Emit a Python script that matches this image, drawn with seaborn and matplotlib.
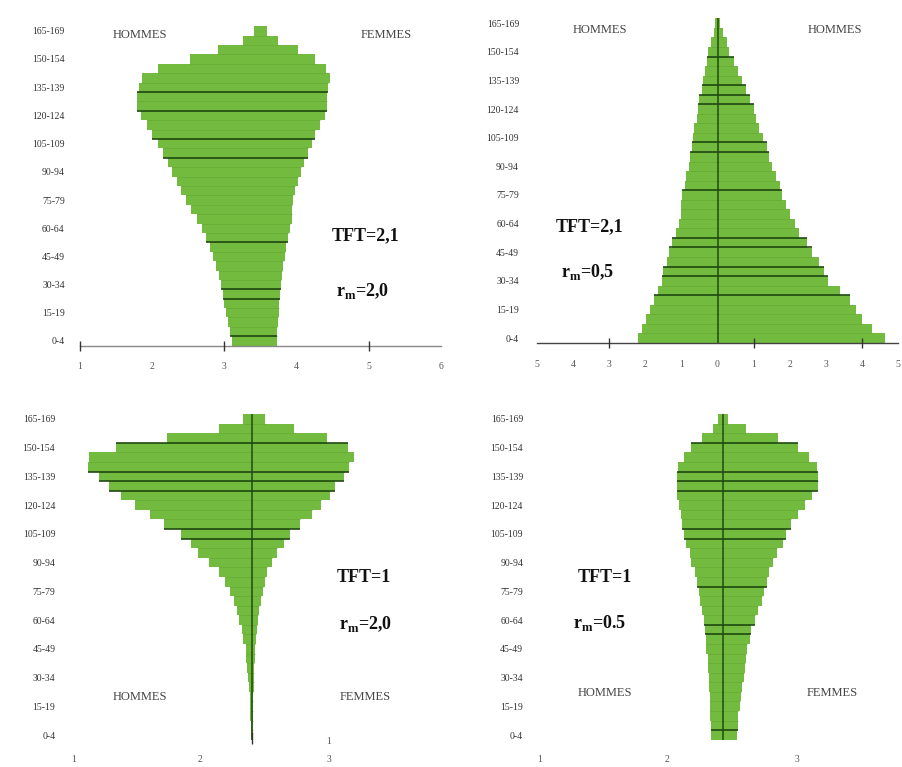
import matplotlib
matplotlib.use("Agg")
import matplotlib.pyplot as plt
import numpy as np
import pandas as pd
import seaborn as sns

# Age groups (5-year classes), youngest first
AGES = [f"{a}-{a + 4}" for a in range(0, 170, 5)]
SHOWN_AGES = AGES[::3]

# Male (left) and female (right) shares per age group, youngest first
TL_HOMMES = [0.32, 0.35, 0.38, 0.40, 0.43, 0.44, 0.47, 0.50, 0.54, 0.58, 0.63, 0.68,
             0.74, 0.81, 0.88, 0.96, 1.03, 1.08, 1.15, 1.21, 1.28, 1.35, 1.42, 1.50,
             1.58, 1.63, 1.63, 1.61, 1.56, 1.35, 0.90, 0.51, 0.17, 0.01]
TL_FEMMES = [0.31, 0.31, 0.32, 0.33, 0.33, 0.35, 0.36, 0.38, 0.39, 0.42, 0.43, 0.46,
             0.49, 0.51, 0.51, 0.53, 0.56, 0.60, 0.64, 0.68, 0.74, 0.79, 0.83, 0.90,
             0.97, 1.00, 1.00, 1.01, 1.04, 0.99, 0.83, 0.60, 0.32, 0.17]

TR_HOMMES = [2.19, 2.08, 1.97, 1.88, 1.77, 1.66, 1.55, 1.50, 1.41, 1.33, 1.25, 1.14,
             1.08, 1.02, 1.00, 0.97, 0.91, 0.86, 0.80, 0.75, 0.72, 0.69, 0.64, 0.58,
             0.55, 0.50, 0.44, 0.39, 0.36, 0.30, 0.25, 0.17, 0.11, 0.06]
TR_FEMMES = [4.63, 4.29, 3.99, 3.85, 3.68, 3.38, 3.07, 2.96, 2.80, 2.63, 2.47, 2.27,
             2.16, 2.02, 1.91, 1.80, 1.72, 1.63, 1.52, 1.44, 1.36, 1.27, 1.16, 1.08,
             1.00, 0.89, 0.78, 0.69, 0.58, 0.47, 0.33, 0.25, 0.14, 0.06]

BL_HOMMES = [0.008, 0.010, 0.013, 0.016, 0.018, 0.024, 0.029, 0.037, 0.044, 0.05,
             0.07, 0.08, 0.10, 0.12, 0.14, 0.17, 0.21, 0.26, 0.34, 0.42, 0.48, 0.56,
             0.69, 0.80, 0.92, 1.03, 1.12, 1.20, 1.29, 1.28, 1.07, 0.67, 0.26, 0.07]
BL_FEMMES = [0.005, 0.005, 0.008, 0.008, 0.010, 0.013, 0.016, 0.018, 0.021, 0.026,
             0.031, 0.039, 0.044, 0.055, 0.071, 0.086, 0.10, 0.12, 0.16, 0.20, 0.25,
             0.30, 0.38, 0.47, 0.54, 0.61, 0.65, 0.72, 0.76, 0.80, 0.75, 0.59, 0.33, 0.10]

BR_HOMMES = [0.09, 0.09, 0.10, 0.10, 0.10, 0.11, 0.11, 0.12, 0.12, 0.13, 0.13, 0.14,
             0.15, 0.16, 0.18, 0.19, 0.20, 0.22, 0.25, 0.26, 0.29, 0.30, 0.32, 0.33,
             0.34, 0.36, 0.36, 0.36, 0.35, 0.30, 0.25, 0.16, 0.08, 0.04]
BR_FEMMES = [0.11, 0.12, 0.12, 0.13, 0.14, 0.15, 0.16, 0.17, 0.18, 0.19, 0.21, 0.22,
             0.25, 0.27, 0.30, 0.32, 0.34, 0.36, 0.39, 0.42, 0.47, 0.49, 0.53, 0.58,
             0.64, 0.69, 0.74, 0.74, 0.73, 0.67, 0.58, 0.43, 0.18, 0.04]

# Age classes whose upper edge carries a dark separating line
TL_LINES = [26, 24, 21, 19, 10, 5, 4, 0]
TR_LINES = [29, 26, 25, 24, 20, 19, 15, 10, 9, 7, 6, 4]
BL_LINES = [30, 27, 26, 25, 21, 20]
BR_LINES = [30, 27, 26, 25, 21, 20, 15, 11, 10, 0]

# Panel annotations
TL_TEXT = ("TFT=2,1", "2,0", "HOMMES", "FEMMES")
TR_TEXT = ("TFT=2,1", "0,5", "HOMMES", "HOMMES")
BL_TEXT = ("TFT=1", "2,0", "HOMMES", "FEMMES")
BR_TEXT = ("TFT=1", "0.5", "HOMMES", "FEMMES")

# x tick labels of each panel
TL_XLABELS = ["1", "2", "3", "4", "5", "6"]
TR_XLABELS = ["5", "4", "3", "2", "1", "0", "1", "2", "3", "4", "5"]
BL_XLABELS = ["1", "2", "3"]
BR_XLABELS = ["1", "2", "3"]

GREEN = "#73bb3e"
SERIF = ["Liberation Serif", "DejaVu Serif"]

W, H = 902, 767
sns.set_theme(style="white")
plt.rcParams["font.family"] = SERIF
plt.rcParams["mathtext.fontset"] = "custom"
plt.rcParams["mathtext.rm"] = "Liberation Serif"
plt.rcParams["mathtext.bf"] = "Liberation Serif:bold"

fig = plt.figure(figsize=(W / 100, H / 100), dpi=100)


def px_rect(x0, x1, ytop, ybot):
    return [x0 / W, 1 - ybot / H, (x1 - x0) / W, (ybot - ytop) / H]


def fig_text(x, y, s, **kw):
    fig.text(x / W, 1 - y / H, s, ha="center", va="center", **kw)


def pyramid(rect, hommes, femmes, lines, xlim, xticks, xlabels,
            ylab_pad, xlab_pad, center_line, axis_line, axis_color="#888888"):
    ax = fig.add_axes(rect)
    order = AGES[::-1]
    df = pd.DataFrame({
        "age": AGES * 2,
        "valeur": [-v for v in hommes] + list(femmes),
        "sexe": ["H"] * len(AGES) + ["F"] * len(AGES),
    })
    for sexe in ("H", "F"):
        sns.barplot(data=df[df["sexe"] == sexe], x="valeur", y="age", order=order,
                    orient="h", color=GREEN, width=1.0, saturation=1,
                    linewidth=0, ax=ax)
    n = len(AGES)
    # faint separators between age classes
    for k in range(n - 1):
        y = (n - 1) - (k + 0.5)
        left = min(hommes[k], hommes[k + 1])
        right = min(femmes[k], femmes[k + 1])
        ax.hlines(y, -left, right, color="#66a935", linewidth=0.5, zorder=4)
    for k in lines:
        y = (n - 1) - (k + 0.5)
        left = max(hommes[k], hommes[k + 1])
        right = max(femmes[k], femmes[k + 1])
        ax.hlines(y, -left, right, color="#1f4a12", linewidth=1.2, zorder=5)
    if center_line:
        ax.axvline(0, color="#1f4a12", linewidth=1.1, zorder=6)
    ax.set_xlim(*xlim)
    ax.set_ylim(n - 0.5, -0.5)
    ax.set_xlabel("")
    ax.set_ylabel("")
    ax.set_xticks(xticks)
    ax.set_xticklabels(xlabels, fontsize=7, color="#555555")
    ax.set_yticks([order.index(a) for a in SHOWN_AGES])
    ax.set_yticklabels(SHOWN_AGES, fontsize=7, color="#333333")
    ax.tick_params(axis="y", length=0, pad=ylab_pad)
    ax.tick_params(axis="x", length=0, pad=xlab_pad)
    for side in ("top", "right", "left"):
        ax.spines[side].set_visible(False)
    ax.spines["bottom"].set_visible(axis_line)
    ax.spines["bottom"].set_color(axis_color)
    ax.spines["bottom"].set_linewidth(1.0)
    ax.patch.set_alpha(0)
    return ax


# Top left
ax1 = pyramid(px_rect(80, 441, 26.1, 345.7), TL_HOMMES, TL_FEMMES, TL_LINES,
              (-2.424, 2.576), [-2.424 + j for j in range(6)], TL_XLABELS,
              ylab_pad=11, xlab_pad=12, center_line=False, axis_line=True)
ax1.plot([-2.424, -0.424, 1.576], [33.5] * 3, "|", color="#333333",
         markersize=7, clip_on=False, zorder=7)

# Top right
ax2 = pyramid(px_rect(537, 898, 18.3, 343.0), TR_HOMMES, TR_FEMMES, TR_LINES,
              (-5.0, 5.0), list(range(-5, 6)), TR_XLABELS,
              ylab_pad=13, xlab_pad=12, center_line=True, axis_line=True,
              axis_color="#444444")
ax2.plot([-3.0, 1.0, 4.0], [33.5] * 3, "|", color="#333333",
         markersize=7, clip_on=False, zorder=7)

# Bottom left
ax3 = pyramid(px_rect(65, 445, 414.1, 739.8), BL_HOMMES, BL_FEMMES, BL_LINES,
              (-1.467, 1.514), [-1.40, -0.41, 0.60], BL_XLABELS,
              ylab_pad=7, xlab_pad=11, center_line=True, axis_line=False)
ax3.plot([0], [33.3], "|", color="#333333", markersize=8, clip_on=False, zorder=7)

# Bottom right
ax4 = pyramid(px_rect(530, 900, 414.1, 739.8), BR_HOMMES, BR_FEMMES, BR_LINES,
              (-1.502, 1.377), [-1.424, -0.436, 0.576], BR_XLABELS,
              ylab_pad=5, xlab_pad=11, center_line=True, axis_line=False)


def annotate(tft, rm, left_lbl, right_lbl, tft_xy, rm_xy, left_xy, right_xy):
    fig_text(*tft_xy, tft, fontsize=13, fontweight="bold", color="#111111")
    fig_text(*rm_xy, r"r$_{\mathbf{m}}$=" + rm, fontsize=13, fontweight="bold",
             color="#111111")
    fig_text(*left_xy, left_lbl, fontsize=9, color="#444444")
    fig_text(*right_xy, right_lbl, fontsize=9, color="#444444")


annotate(*TL_TEXT, (366, 236), (363, 291), (140, 35), (386, 35))
annotate(*TR_TEXT, (590, 227), (588, 272), (600, 30), (835, 30))
annotate(*BL_TEXT, (364, 577), (366, 624), (140, 697), (365, 697))
annotate(*BR_TEXT, (605, 577), (600, 623), (605, 693), (832, 693))
fig_text(329, 741, "1", fontsize=7, color="#555555")

fig.savefig("out.png", dpi=100)
